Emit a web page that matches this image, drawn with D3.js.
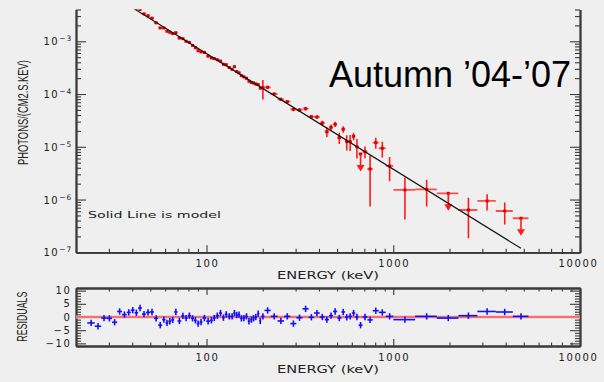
<!DOCTYPE html>
<html>
<head>
<meta charset="utf-8">
<script src="https://cdn.jsdelivr.net/npm/d3@7"></script>
<style>
  html, body { margin: 0; padding: 0; background: #efefef; }
  svg { display: block; }
  .axis .domain { stroke: #3a3a3a; stroke-width: 1.8; }
  .axis .tick line { stroke: #3a3a3a; stroke-width: 1.1; }
  .axis .tick text { display: none; }
  .num { font-family: "DejaVu Sans", sans-serif; font-size: 10px; fill: #222; letter-spacing: 1.6px; }
</style>
</head>
<body>
<svg id="chart" width="604" height="382"></svg>
<script>
// Spectrum bins (keV edges), measured flux (photons/cm2/s/keV) and 1-sigma errors
const binEdges = [23.0, 25.2, 27.3, 29.2, 31.2, 33.2, 35.3, 37.4, 39.3, 41.2,
  43.0, 45.1, 47.4, 49.8, 52.3, 55.1, 57.9, 60.3, 62.5, 64.7,
  67.1, 69.9, 73.2, 76.2, 79.3, 82.6, 85.7, 88.6, 91.7, 95.2,
  99.6, 104.4, 108.1, 111.9, 116.6, 121.1, 125.1, 129.8, 135.0, 139.2,
  143.0, 147.2, 151.5, 155.9, 161.2, 166.2, 171.4, 176.4, 180.8, 186.4,
  191.8, 196.2, 204.5, 220.6, 240.0, 260.1, 281.2, 302.7, 326.8, 351.9,
  376.6, 404.0, 429.7, 452.3, 476.0, 501.0, 527.3, 551.9, 575.2, 600.5,
  625.9, 651.9, 684.8, 727.0, 776.2, 835.8, 911.1, 1001, 1309, 1710,
  2232, 2821, 3541, 4366, 5293];

const flux = [1.21e-2, 9.37e-3, 9.20e-3, 7.95e-3, 6.44e-3, 6.70e-3, 5.54e-3, 5.14e-3, 4.76e-3, 4.16e-3,
  4.01e-3, 3.31e-3, 3.05e-3, 2.74e-3, 2.24e-3, 1.79e-3, 1.78e-3, 1.55e-3, 1.48e-3, 1.40e-3,
  1.45e-3, 1.15e-3, 1.12e-3, 1.00e-3, 9.50e-4, 8.33e-4, 7.52e-4, 6.62e-4, 6.27e-4, 6.15e-4,
  5.21e-4, 4.83e-4, 4.70e-4, 4.46e-4, 4.22e-4, 3.67e-4, 3.59e-4, 3.19e-4, 2.94e-4, 3.30e-4,
  2.66e-4, 2.52e-4, 2.23e-4, 2.11e-4, 1.99e-4, 1.75e-4, 1.65e-4, 1.62e-4, 1.55e-4, 1.51e-4,
  1.29e-4, 1.32e-4, 1.34e-4, 1.00e-4, 7.94e-5, 7.16e-5, 5.14e-5, 4.99e-5, 5.27e-5, 3.72e-5,
  3.67e-5, 2.82e-5, 1.93e-5, 2.34e-5, 2.67e-5, 1.49e-5, 2.15e-5, 1.25e-5, 1.25e-5, 1.58e-5,
  1.00e-5, 7.31e-6, 8.07e-6, 3.79e-6, 1.20e-5, 9.37e-6, 4.33e-6, 1.52e-6, 1.56e-6, 1.31e-6,
  6.34e-7, 9.40e-7, 6.07e-7, 4.42e-7];

const fluxErr = [4.8e-4, 3.7e-4, 3.7e-4, 3.2e-4, 2.6e-4, 2.7e-4, 2.2e-4, 2.1e-4, 1.9e-4, 1.7e-4,
  1.6e-4, 1.3e-4, 1.2e-4, 1.1e-4, 9.0e-5, 7.2e-5, 7.1e-5, 6.2e-5, 5.9e-5, 5.6e-5,
  5.8e-5, 4.6e-5, 4.5e-5, 4.0e-5, 3.8e-5, 3.3e-5, 3.0e-5, 2.6e-5, 2.5e-5, 2.5e-5,
  2.6e-5, 2.4e-5, 2.4e-5, 2.2e-5, 2.1e-5, 1.8e-5, 1.8e-5, 1.6e-5, 1.5e-5, 2.0e-5,
  1.3e-5, 1.3e-5, 1.1e-5, 1.1e-5, 1.0e-5, 9.0e-6, 8.3e-6, 8.1e-6, 7.8e-6, 7.6e-6,
  6.5e-6, 5.3e-5, 9.0e-6, 7.0e-6, 6.0e-6, 5.0e-6, 4.0e-6, 4.0e-6, 4.0e-6, 3.0e-6,
  3.0e-6, 3.0e-6, 4.0e-6, 3.0e-6, 3.0e-6, 3.6e-6, 3.0e-6, 4.0e-6, 4.2e-6, 2.5e-6,
  4.0e-6, 0, 2.0e-6, 3.05e-6, 2.8e-6, 3.1e-6, 2.1e-6, 1.1e-6, 8.2e-7, 0,
  4.5e-7, 3.2e-7, 2.7e-7, 0];

// Bins reported as 2-sigma upper limits (0-based indices)
const upperLimitBins = [71, 79, 83];

// Fit residuals in units of sigma
const residuals = [-2.25, -3.5, -0.4, -0.5, -2, 2.1, 0.9, 1.75, 2.6, 1.6,
  3.4, 1.1, 1.75, 1.9, -0.5, -3.1, -1, -2.25, -1.6, -1.1,
  1.9, -1.5, 0.4, -0.4, 0.5, -0.5, -1.25, -2.5, -1.9, -0.4,
  -1.6, -1.25, -0.4, 0.5, 1.5, -0.25, 1, 0.25, 0.25, 1.5,
  0.75, 0.9, -0.5, -0.4, 0.25, -1.6, -1, -0.5, 0, 1.25,
  -1.5, 0.25, 2.5, 0.25, -1.5, 0.25, -2.5, -0.25, 3.1, -0.1,
  1.5, 0, -1, 0.5, 2.1, -0.4, 1.9, -0.1, 0.25, 1.5,
  0, -3.1, 0, -1.1, 2.4, 1.75, 0.25, -1, 0.25, -0.4,
  0.5, 2.1, 1.9, 0.25];
const residualErr = 1.2;

// Power-law model evaluated at the first and last bin centres
const modelEnergy = [24.1, 4830];
const modelFlux = [1.32e-2, 1.19e-7];

const energyTicks = [100, 1000, 10000];
const fluxTickExponents = [-7, -6, -5, -4, -3];
const residualTicks = [10, 5, 0, -5, -10];
const title = "Autumn \u201904-\u201907";
const noteText = "Solid Line is model";
const energyTitle = "ENERGY (keV)";
const fluxTitle = "PHOTONS/(CM2.S.KEV)";
const residualTitle = "RESIDUALS";

const svg = d3.select("#chart");
const left = 76, right = 580;
const topPanel = { top: 9.5, bottom: 252.3 };
const resPanel = { top: 288, bottom: 346 };

const x = d3.scaleLog().domain([20, 10000]).range([left, right]);
const y = d3.scaleLog().domain([1e-7, 4e-3]).range([topPanel.bottom, topPanel.top]);
const yr = d3.scaleLinear().domain([-11, 11]).range([resPanel.bottom, resPanel.top]);

const defs = svg.append("defs");
defs.append("clipPath").attr("id", "clipTop").append("rect")
  .attr("x", left).attr("y", topPanel.top)
  .attr("width", right - left).attr("height", topPanel.bottom - topPanel.top);
defs.append("clipPath").attr("id", "clipRes").append("rect")
  .attr("x", left).attr("y", resPanel.top)
  .attr("width", right - left).attr("height", resPanel.bottom - resPanel.top);

const bins = flux.map((f, i) => ({
  lo: binEdges[i], hi: binEdges[i + 1], e: (binEdges[i] + binEdges[i + 1]) / 2,
  f, err: fluxErr[i], ul: upperLimitBins.includes(i), r: residuals[i]
}));

// ---------- axes ----------
function drawAxis(axisFn, scale, values, size, transform) {
  svg.append("g").attr("class", "axis").attr("transform", transform)
    .call(axisFn(scale).tickValues(values).tickSizeInner(size).tickSizeOuter(0).tickFormat(""));
}
const xMinor = x.ticks().filter(v => !energyTicks.includes(v));
const yAll = y.ticks();
const yMajor = fluxTickExponents.map(p => Math.pow(10, p));
const yMinor = yAll.filter(v => !yMajor.some(m => Math.abs(m - v) / m < 1e-6));
const rMinor = d3.range(-11, 12).filter(v => v % 5 !== 0);

// upper panel: left, right and bottom axes
drawAxis(d3.axisRight, y, yMinor, 5, `translate(${left},0)`);
drawAxis(d3.axisRight, y, yMajor, 10, `translate(${left},0)`);
drawAxis(d3.axisLeft, y, yMinor, 5, `translate(${right},0)`);
drawAxis(d3.axisLeft, y, yMajor, 10, `translate(${right},0)`);
drawAxis(d3.axisTop, x, xMinor, 3.5, `translate(0,${topPanel.bottom})`);
drawAxis(d3.axisTop, x, energyTicks, 7, `translate(0,${topPanel.bottom})`);

// residual panel: full box
drawAxis(d3.axisRight, yr, rMinor, 5, `translate(${left},0)`);
drawAxis(d3.axisRight, yr, residualTicks, 10, `translate(${left},0)`);
drawAxis(d3.axisLeft, yr, rMinor, 5, `translate(${right},0)`);
drawAxis(d3.axisLeft, yr, residualTicks, 10, `translate(${right},0)`);
drawAxis(d3.axisTop, x, xMinor, 3.5, `translate(0,${resPanel.bottom})`);
drawAxis(d3.axisTop, x, energyTicks, 7, `translate(0,${resPanel.bottom})`);
drawAxis(d3.axisBottom, x, xMinor, 3.5, `translate(0,${resPanel.top})`);
drawAxis(d3.axisBottom, x, energyTicks, 7, `translate(0,${resPanel.top})`);

// ---------- tick labels ----------
fluxTickExponents.forEach(p => {
  const ty = y(Math.pow(10, p));
  const t = svg.append("text").attr("class", "num").attr("text-anchor", "end")
    .attr("x", 72).attr("y", ty + 4);
  t.append("tspan").text("10");
  t.append("tspan").attr("dy", -4).style("font-size", "7.5px").style("letter-spacing", "0.8px")
    .text("\u2212" + Math.abs(p));
});

residualTicks.forEach(v => {
  svg.append("text").attr("class", "num").attr("text-anchor", "end")
    .attr("x", 71.5).attr("y", yr(v) + 3.6)
    .text(v < 0 ? "\u2212" + Math.abs(v) : String(v));
});

[topPanel.bottom + 14.5, resPanel.bottom + 14.5].forEach(by => {
  energyTicks.forEach(v => {
    svg.append("text").attr("class", "num").attr("text-anchor", "middle")
      .attr("x", x(v) + 1 - (v === 10000 ? 2.5 : 0)).attr("y", by).text(String(v));
  });
});

// ---------- axis titles ----------
[topPanel.bottom + 26.5, resPanel.bottom + 26.5].forEach(by => {
  svg.append("text").attr("x", (left + right) / 2 - 51).attr("y", by)
    .attr("textLength", 102).attr("lengthAdjust", "spacingAndGlyphs")
    .style("font-family", "'DejaVu Sans', sans-serif").style("font-size", "10px").style("fill", "#222")
    .text(energyTitle);
});

function vTitle(txt, cx, cy, len) {
  svg.append("text").attr("transform", `translate(${cx},${cy}) rotate(-90)`)
    .attr("x", -len / 2).attr("y", 0)
    .attr("textLength", len).attr("lengthAdjust", "spacingAndGlyphs")
    .style("font-family", "'Liberation Sans', Arial, sans-serif").style("font-size", "14px").style("fill", "#222")
    .text(txt);
}
vTitle(fluxTitle, 27.5, 112.5, 105);
vTitle(residualTitle, 27, 316.7, 50);

// ---------- data: upper panel ----------
const gTop = svg.append("g").attr("clip-path", "url(#clipTop)");
const red = "#ff1a1a";

const pts = bins.filter(d => !d.ul);
gTop.selectAll("line.hbar").data(bins).join("line")
  .attr("x1", d => x(d.lo)).attr("x2", d => x(d.hi))
  .attr("y1", d => y(d.f)).attr("y2", d => y(d.f))
  .attr("stroke", "#ff4d4d").attr("stroke-width", 1.8);
gTop.selectAll("line.vbar").data(pts).join("line")
  .attr("x1", d => x(d.e)).attr("x2", d => x(d.e))
  .attr("y1", d => y(d.f + d.err)).attr("y2", d => y(Math.max(d.f - d.err, 1e-9)))
  .attr("stroke", red).attr("stroke-width", 1.6);
gTop.selectAll("rect.pt").data(bins).join("rect")
  .attr("x", d => x(d.e) - 1.5).attr("y", d => y(d.f) - 1.5)
  .attr("width", 3).attr("height", 3).attr("fill", "#e00000");

const uls = bins.filter(d => d.ul);
gTop.selectAll("line.ul").data(uls).join("line")
  .attr("x1", d => x(d.e)).attr("x2", d => x(d.e))
  .attr("y1", d => y(d.f)).attr("y2", d => y(d.f) + 12)
  .attr("stroke", red).attr("stroke-width", 1.6);
gTop.selectAll("path.ul").data(uls).join("path")
  .attr("d", d => {
    const cx = x(d.e), cy = y(d.f) + 11;
    return `M${cx - 4},${cy} L${cx + 4},${cy} L${cx},${cy + 6.5} Z`;
  })
  .attr("fill", red);

// model line
gTop.append("path")
  .datum(modelEnergy.map((e, i) => [e, modelFlux[i]]))
  .attr("d", d3.line().x(d => x(d[0])).y(d => y(d[1])))
  .attr("fill", "none").attr("stroke", "#111").attr("stroke-width", 1.1);

// ---------- data: residual panel ----------
const gRes = svg.append("g").attr("clip-path", "url(#clipRes)");
gRes.append("line").attr("x1", left).attr("x2", right)
  .attr("y1", yr(0)).attr("y2", yr(0)).attr("stroke", "#f3b3b3").attr("stroke-width", 3);
gRes.append("line").attr("x1", left).attr("x2", right)
  .attr("y1", yr(0)).attr("y2", yr(0)).attr("stroke", "#ee3333").attr("stroke-width", 1.2);

const blue = "#1010ff";
gRes.selectAll("line.rh").data(bins).join("line")
  .attr("x1", d => x(d.lo)).attr("x2", d => x(d.hi))
  .attr("y1", d => yr(d.r)).attr("y2", d => yr(d.r))
  .attr("stroke", blue).attr("stroke-width", 1.6);
gRes.selectAll("line.rv").data(bins).join("line")
  .attr("x1", d => x(d.e)).attr("x2", d => x(d.e))
  .attr("y1", d => yr(d.r - residualErr)).attr("y2", d => yr(d.r + residualErr))
  .attr("stroke", blue).attr("stroke-width", 1.6);

// ---------- annotations ----------
svg.append("text").attr("x", 88).attr("y", 217.5)
  .attr("textLength", 133).attr("lengthAdjust", "spacingAndGlyphs")
  .style("font-family", "'DejaVu Sans', sans-serif").style("font-size", "9.5px").style("fill", "#222")
  .text(noteText);

svg.append("text").attr("x", 329).attr("y", 86.5)
  .style("font-family", "'Liberation Sans', Arial, sans-serif").style("font-size", "36px").style("fill", "#000")
  .text(title);
</script>
</body>
</html>
